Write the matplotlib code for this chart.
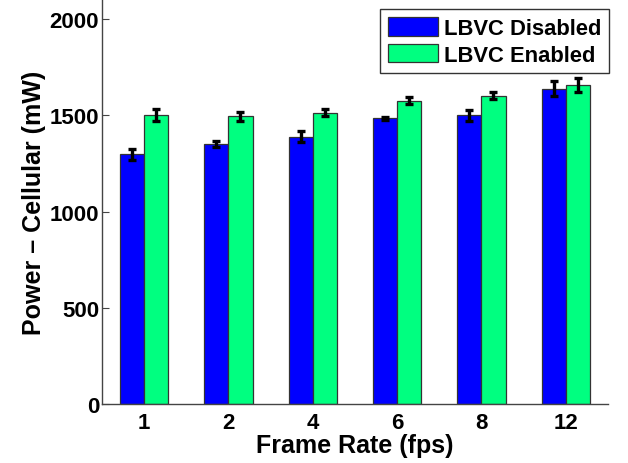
import matplotlib
matplotlib.use("Agg")
import matplotlib.pyplot as plt
import numpy as np

plt.rcParams['font.family'] = ['Liberation Sans', 'DejaVu Sans']
plt.rcParams['font.weight'] = 'bold'

categories = ['1', '2', '4', '6', '8', '12']
disabled = [1297, 1352, 1390, 1484, 1500, 1640]
disabled_err = [27, 15, 28, 8, 28, 37]
enabled = [1501, 1495, 1513, 1577, 1602, 1659]
enabled_err = [30, 24, 18, 17, 18, 35]
series_names = ['LBVC Disabled', 'LBVC Enabled']

fig = plt.figure(figsize=(6.28, 4.64), dpi=100)
ax = fig.add_axes([0.1624, 0.1278, 0.8057, 0.8698])

x = np.arange(1, len(categories) + 1)
w = 0.285
b1 = ax.bar(x - w / 2, disabled, w, color='#0000ff', edgecolor='#333333', linewidth=0.9, label=series_names[0], zorder=2)
b2 = ax.bar(x + w / 2, enabled, w, color='#00ff80', edgecolor='#333333', linewidth=0.9, label=series_names[1], zorder=2)
ax.errorbar(x - w / 2, disabled, yerr=disabled_err, fmt='none', ecolor='black', elinewidth=2.4, capsize=3, capthick=2.4, zorder=3)
ax.errorbar(x + w / 2, enabled, yerr=enabled_err, fmt='none', ecolor='black', elinewidth=2.4, capsize=3, capthick=2.4, zorder=3)

ax.set_xlim(0.5, 6.5)
ax.set_ylim(0, 2100)
ax.set_xticks(x)
ax.set_xticklabels(categories)
ax.set_yticks([0, 500, 1000, 1500, 2000])
ax.tick_params(axis='both', direction='in', labelsize=16, length=5, width=0.8, color='#444444', pad=2)
ax.tick_params(axis='x', length=0, pad=6)
for s in ['top', 'right']:
    ax.spines[s].set_visible(False)
for s in ['left', 'bottom']:
    ax.spines[s].set_color('#444444')
    ax.spines[s].set_linewidth(1.0)

ax.set_xlabel('Frame Rate (fps)', fontsize=18, fontweight='bold', labelpad=0)
ax.set_ylabel('Power \u2013 Cellular (mW)', fontsize=18, fontweight='bold', labelpad=3)

leg = fig.legend(handles=[b1, b2], loc='upper right', bbox_to_anchor=(609 / 628, 1 - 10 / 464),
                 fontsize=15.8, frameon=True, fancybox=False, edgecolor='black',
                 handlelength=2.3, handleheight=0.95, handletextpad=0.25,
                 borderpad=0.35, labelspacing=0.22, borderaxespad=0)
leg.get_frame().set_linewidth(1.0)

fig.savefig('out.png', dpi=100)
